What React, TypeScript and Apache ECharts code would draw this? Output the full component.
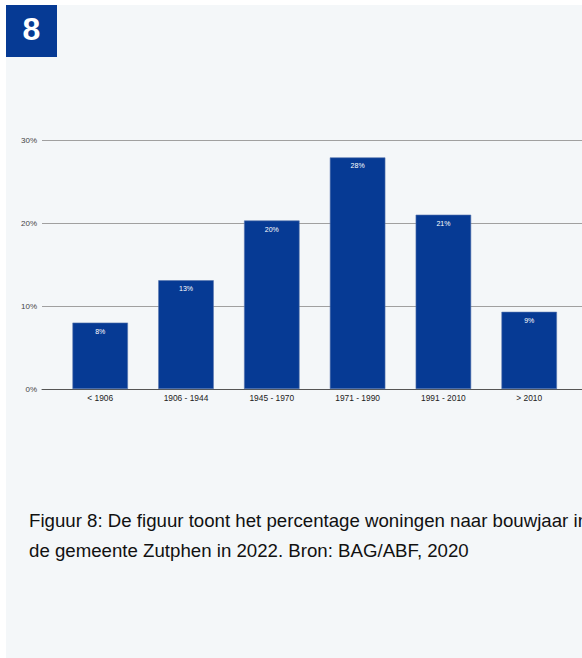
import React, { useEffect, useRef } from "react";
import * as echarts from "echarts";

const categories = ["< 1906", "1906 - 1944", "1945 - 1970", "1971 - 1990", "1991 - 2010", "> 2010"];
const values = [8.0, 13.1, 20.3, 27.9, 21.0, 9.3];
const labels = ["8%", "13%", "20%", "28%", "21%", "9%"];
const yTicks = [0, 10, 20, 30];
const captionLines = [
  "Figuur 8: De figuur toont het percentage woningen naar bouwjaar in",
  "de gemeente Zutphen in 2022. Bron: BAG/ABF, 2020",
];
const badgeText = "8";

const FONT = "'Liberation Sans', Arial, sans-serif";
const BLUE = "#063a94";

export default function App() {
  const ref = useRef<HTMLDivElement>(null);
  useEffect(() => {
    if (!ref.current) return;
    const chart = echarts.init(ref.current, undefined, { renderer: "svg" });
    const yMax = yTicks[yTicks.length - 1];
    const yInterval = yTicks[1] - yTicks[0];
    chart.setOption({
      animation: false,
      backgroundColor: "#ffffff",
      textStyle: { fontFamily: FONT },
      graphic: [
        { type: "rect", z: -10, silent: true, shape: { x: 6, y: 5, width: 600, height: 700 }, style: { fill: "#f4f7f9" } },
        { type: "rect", z: 10, shape: { x: 6, y: 5, width: 51, height: 52 }, style: { fill: BLUE } },
        {
          type: "text", z: 11, x: 31.5, y: 29,
          style: { text: badgeText, fill: "#ffffff", font: `bold 32px ${FONT}`, align: "center", verticalAlign: "middle" },
        },
        ...captionLines.map((t, i) => ({
          type: "text", z: 11, x: 29, y: 520.3 + i * 30.4,
          style: { text: t, fill: "#111111", font: `18.67px ${FONT}`, align: "left", verticalAlign: "middle" },
        })),
      ],
      grid: [
        { left: 42, right: -10, top: 140, height: 249 },
        { left: 57.3, width: 514.8, top: 140, height: 249 },
      ],
      xAxis: [
        {
          gridIndex: 0, type: "category", data: [""],
          axisLine: { show: true, lineStyle: { color: "#555555", width: 1 } },
          axisTick: { show: false }, axisLabel: { show: false }, splitLine: { show: false },
        },
        {
          gridIndex: 1, type: "category", data: categories,
          axisLine: { show: false }, axisTick: { show: false },
          axisLabel: { color: "#222222", fontSize: 8.4, fontFamily: FONT, margin: 5, interval: 0 },
        },
      ],
      yAxis: [
        {
          gridIndex: 0, type: "value", min: 0, max: yMax, interval: yInterval,
          axisLine: { show: false }, axisTick: { show: false },
          axisLabel: { color: "#444444", fontSize: 8, fontFamily: FONT, margin: 5, formatter: "{value}%" },
          splitLine: { show: true, lineStyle: { color: "#a0a0a0", width: 1 } },
        },
        {
          gridIndex: 1, type: "value", min: 0, max: yMax, interval: yInterval,
          axisLine: { show: false }, axisTick: { show: false }, axisLabel: { show: false }, splitLine: { show: false },
        },
      ],
      series: [
        {
          type: "bar", xAxisIndex: 1, yAxisIndex: 1, data: values, barWidth: 55.5,
          itemStyle: { color: BLUE, borderColor: "#5574ad", borderWidth: 0.6 },
          label: {
            show: true, position: "insideTop", distance: 5, color: "#ffffff", fontSize: 7, fontFamily: FONT,
            formatter: (p: any) => labels[p.dataIndex],
          },
          z: 3,
        },
      ],
    });
    return () => chart.dispose();
  }, []);
  return (
    <div
      ref={ref}
      style={{ position: "fixed", left: 0, top: 0, width: 582, height: 658 }}
    />
  );
}
